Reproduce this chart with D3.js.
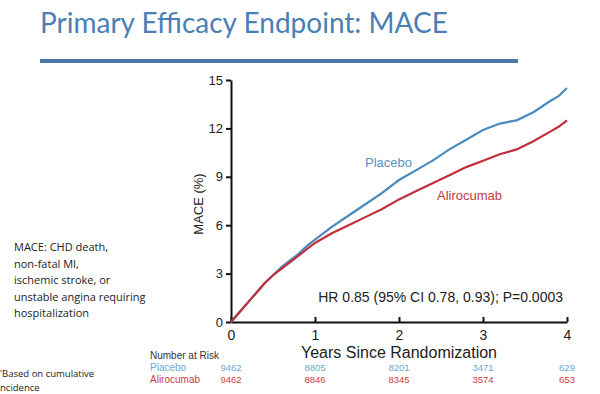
<!DOCTYPE html>
<html>
<head>
<meta charset="utf-8">
<script src="https://cdn.jsdelivr.net/npm/d3@7"></script>
<style>
  body { margin: 0; background: #fff; }
  svg { display: block; }
</style>
</head>
<body>
<div id="chart"></div>
<script>
// Kaplan-Meier style cumulative incidence
const years = [0, 0.1, 0.2, 0.3, 0.4, 0.5, 0.6, 0.7, 0.8, 0.9, 1.0, 1.2, 1.4, 1.6, 1.8, 2.0, 2.2, 2.4, 2.6, 2.8, 3.0, 3.2, 3.4, 3.6, 3.8, 3.9, 4.0];
const placebo = [0, 0.6, 1.2, 1.8, 2.4, 2.9, 3.4, 3.8, 4.2, 4.7, 5.1, 5.9, 6.6, 7.3, 8.0, 8.8, 9.4, 10.0, 10.7, 11.3, 11.9, 12.3, 12.5, 13.0, 13.7, 14.0, 14.5];
const alirocumab = [0, 0.6, 1.2, 1.8, 2.4, 2.9, 3.3, 3.7, 4.1, 4.5, 4.9, 5.5, 6.0, 6.5, 7.0, 7.6, 8.1, 8.6, 9.1, 9.6, 10.0, 10.4, 10.7, 11.2, 11.8, 12.1, 12.5];

const yTicks = [0, 3, 6, 9, 12, 15];
const xTicks = [0, 1, 2, 3, 4];
const riskPlacebo = [9462, 8805, 8201, 3471, 629];
const riskAlirocumab = [9462, 8846, 8345, 3574, 653];
const defnLines = ["MACE: CHD death,", "non-fatal MI,", "ischemic stroke, or", "unstable angina requiring", "hospitalization"];

const width = 600, height = 394;
const margin = { top: 80, right: 33, bottom: 72, left: 231 };

const svg = d3.select("#chart").append("svg")
  .attr("width", width)
  .attr("height", height);

// title and rule
svg.append("text")
  .attr("x", 40).attr("y", 33)
  .attr("font-family", "Lato, 'Open Sans', sans-serif")
  .attr("font-size", 28)
  .attr("fill", "#4a7fb5")
  .text("Primary Efficacy Endpoint: MACE");

svg.append("rect")
  .attr("x", 40).attr("y", 59)
  .attr("width", 478).attr("height", 4)
  .attr("fill", "#4a78ab");

const x = d3.scaleLinear().domain([0, 4]).range([margin.left, width - margin.right]);
const y = d3.scaleLinear().domain([0, 15]).range([height - margin.bottom, margin.top]);

const axisFont = "Arial, 'Liberation Sans', sans-serif";

const yAxis = svg.append("g")
  .attr("transform", `translate(${margin.left},0)`)
  .call(d3.axisLeft(y).tickValues(yTicks).tickFormat(d3.format("d")).tickSize(5).tickSizeOuter(0).tickPadding(3));
yAxis.select(".domain").attr("stroke", "#111").attr("stroke-width", 2);
yAxis.selectAll(".tick line").attr("stroke", "#111").attr("stroke-width", 2);
yAxis.selectAll("text").attr("font-family", axisFont).attr("font-size", 13).attr("fill", "#222");

const xAxis = svg.append("g")
  .attr("transform", `translate(0,${height - margin.bottom})`)
  .call(d3.axisBottom(x).tickValues(xTicks).tickFormat(d3.format("d")).tickSize(-5).tickSizeOuter(0).tickPadding(8));
xAxis.select(".domain").attr("stroke", "#111").attr("stroke-width", 2);
xAxis.selectAll(".tick line").attr("stroke", "#111").attr("stroke-width", 2);
xAxis.selectAll("text").attr("font-family", axisFont).attr("font-size", 14).attr("fill", "#222");

svg.append("text")
  .attr("transform", `translate(203,${(y(0) + y(15)) / 2 + 3}) rotate(-90)`)
  .attr("text-anchor", "middle")
  .attr("font-family", axisFont).attr("font-size", 13).attr("fill", "#222")
  .text("MACE (%)");

svg.append("text")
  .attr("x", x(2)).attr("y", 358)
  .attr("text-anchor", "middle")
  .attr("font-family", axisFont).attr("font-size", 16).attr("fill", "#222")
  .text("Years Since Randomization");

// curves
const line = d3.line().x(d => x(d[0])).y(d => y(d[1]));
svg.append("path")
  .datum(d3.zip(years, placebo))
  .attr("fill", "none").attr("stroke", "#4a8bbf").attr("stroke-width", 2.2)
  .attr("d", line);
svg.append("path")
  .datum(d3.zip(years, alirocumab))
  .attr("fill", "none").attr("stroke", "#c0303a").attr("stroke-width", 2.2)
  .attr("d", line);

svg.append("text")
  .attr("x", 365).attr("y", 167)
  .attr("font-family", axisFont).attr("font-size", 13).attr("fill", "#5b90c2")
  .text("Placebo");
svg.append("text")
  .attr("x", 437).attr("y", 200)
  .attr("font-family", axisFont).attr("font-size", 13).attr("fill", "#c23a42")
  .text("Alirocumab");

svg.append("text")
  .attr("x", 563).attr("y", 302)
  .attr("text-anchor", "end")
  .attr("font-family", axisFont).attr("font-size", 14).attr("fill", "#222")
  .text("HR 0.85 (95% CI 0.78, 0.93); P=0.0003");

// number at risk table
svg.append("text")
  .attr("x", 150).attr("y", 359)
  .attr("font-family", axisFont).attr("font-size", 10).attr("fill", "#333")
  .text("Number at Risk");

const rows = [
  { name: "Placebo", values: riskPlacebo, color: "#6fa6d2", y: 371 },
  { name: "Alirocumab", values: riskAlirocumab, color: "#cc4048", y: 383 }
];
rows.forEach(r => {
  svg.append("text")
    .attr("x", 150).attr("y", r.y)
    .attr("font-family", axisFont).attr("font-size", 10).attr("fill", r.color)
    .text(r.name);
  svg.selectAll(null)
    .data(r.values)
    .enter()
    .append("text")
    .attr("x", (d, i) => x(xTicks[i]))
    .attr("y", r.y)
    .attr("text-anchor", "middle")
    .attr("font-family", axisFont).attr("font-size", 9.5).attr("fill", r.color)
    .text(d => d);
});

// definition text on the left
svg.selectAll(".defn")
  .data(defnLines)
  .enter()
  .append("text")
  .attr("class", "defn")
  .attr("x", 14)
  .attr("y", (d, i) => 251 + i * 16.6)
  .attr("font-family", "'Open Sans', sans-serif").attr("font-size", 11).attr("fill", "#222")
  .text(d => d);

svg.append("text")
  .attr("x", 0).attr("y", 377)
  .attr("font-family", "'Open Sans', sans-serif").attr("font-size", 9.5).attr("fill", "#222")
  .text("'Based on cumulative");
svg.append("text")
  .attr("x", 0).attr("y", 391)
  .attr("font-family", "'Open Sans', sans-serif").attr("font-size", 9.5).attr("fill", "#222")
  .text("ncidence");
</script>
</body>
</html>
